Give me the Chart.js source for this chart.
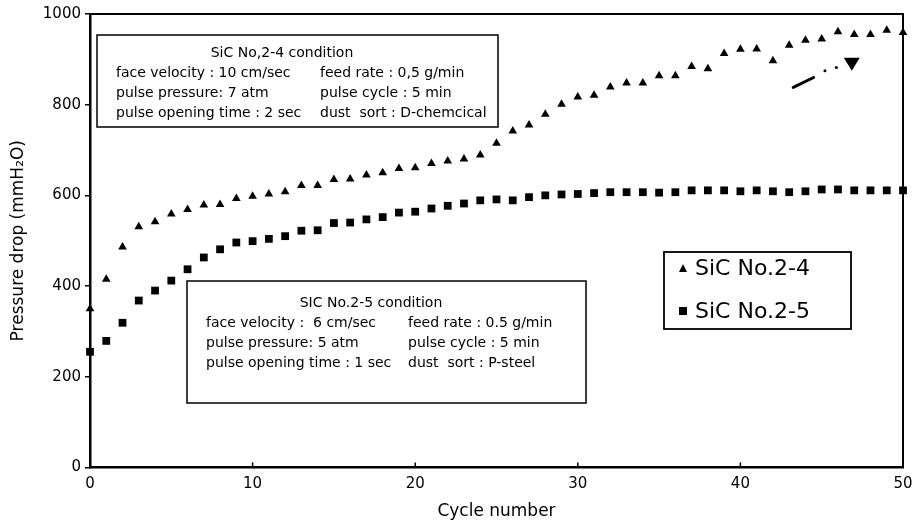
<!DOCTYPE html>
<html>
<head>
<meta charset="utf-8">
<script src="https://cdn.jsdelivr.net/npm/chart.js@4.4.1/dist/chart.umd.min.js"></script>
<style>
  html, body { margin: 0; padding: 0; background: #fff; }
  #wrap { width: 919px; height: 530px; position: relative; }
</style>
</head>
<body>
<div id="wrap"><canvas id="pdChart"></canvas></div>
<script>
// ===== DATA =====
const cycles = [0, 1, 2, 3, 4, 5, 6, 7, 8, 9, 10, 11, 12, 13, 14, 15, 16, 17, 18, 19, 20,
  21, 22, 23, 24, 25, 26, 27, 28, 29, 30, 31, 32, 33, 34, 35, 36, 37, 38, 39, 40,
  41, 42, 43, 44, 45, 46, 47, 48, 49, 50];

// SiC No.2-4 (triangles)
const sic24 = [350, 415, 486, 531, 542, 559, 569, 579, 580, 593, 598, 603, 608, 622, 622,
  635, 636, 645, 650, 659, 661, 670, 676, 680, 689, 715, 742, 755, 779, 801, 817,
  821, 839, 848, 848, 864, 864, 884, 879, 913, 922, 923, 897, 931, 942, 945, 961,
  955, 955, 964, 959];

// SiC No.2-5 (squares)
const sic25 = [255, 279, 319, 368, 390, 412, 437, 463, 481, 496, 499, 504, 510, 522, 523,
  539, 540, 547, 552, 562, 564, 571, 577, 582, 589, 591, 589, 596, 600, 602, 603,
  605, 607, 607, 607, 606, 607, 611, 611, 611, 609, 611, 609, 607, 609, 613, 613,
  611, 611, 611, 611];

const seriesLabels = ['SiC No.2-4', 'SiC No.2-5'];
const xTicks = [0, 10, 20, 30, 40, 50];
const yTicks = [0, 200, 400, 600, 800, 1000];

// condition boxes
const box24Title = 'SiC No,2-4 condition';
const box24Left = ['face velocity : 10 cm/sec', 'pulse pressure: 7 atm', 'pulse opening time : 2 sec'];
const box24Right = ['feed rate : 0,5 g/min', 'pulse cycle : 5 min', 'dust  sort : D-chemcical'];
const box25Title = 'SIC No.2-5 condition';
const box25Left = ['face velocity :  6 cm/sec', 'pulse pressure: 5 atm', 'pulse opening time : 1 sec'];
const box25Right = ['feed rate : 0.5 g/min', 'pulse cycle : 5 min', 'dust  sort : P-steel'];

const FONT = "'DejaVu Sans', 'Liberation Sans', Arial, sans-serif";

// ===== ANNOTATIONS (boxes, legend, arrow, frame) =====
function drawBox(ctx, x0, y0, x1, y1, textTop, title, titleX, leftX, rightX, left, right) {
  ctx.save();
  ctx.fillStyle = '#fff';
  ctx.fillRect(x0, y0, x1 - x0, y1 - y0);
  ctx.strokeStyle = '#000';
  ctx.lineWidth = 1.5;
  ctx.strokeRect(x0, y0, x1 - x0, y1 - y0);
  ctx.fillStyle = '#000';
  ctx.textBaseline = 'middle';
  ctx.font = '14px ' + FONT;
  ctx.textAlign = 'center';
  ctx.fillText(title, titleX, y0 + textTop);
  ctx.textAlign = 'left';
  left.forEach((t, i) => ctx.fillText(t, leftX, y0 + textTop + 20 + i * 20));
  right.forEach((t, i) => ctx.fillText(t, rightX, y0 + textTop + 20 + i * 20));
  ctx.restore();
}

const overlayPlugin = {
  id: 'overlay',
  afterDraw(chart) {
    const ctx = chart.ctx;
    const a = chart.chartArea;
    const xs = chart.scales.x, ys = chart.scales.y;

    // frame top / right
    ctx.save();
    ctx.strokeStyle = '#000';
    ctx.lineWidth = 2;
    ctx.beginPath();
    ctx.moveTo(a.left, a.top);
    ctx.lineTo(a.right, a.top);
    ctx.lineTo(a.right, a.bottom);
    ctx.stroke();
    // inward x ticks
    ctx.lineWidth = 1.5;
    xTicks.forEach(v => {
      const px = xs.getPixelForValue(v);
      ctx.beginPath();
      ctx.moveTo(px, a.bottom);
      ctx.lineTo(px, a.bottom - 5);
      ctx.stroke();
    });
    ctx.restore();

    drawBox(ctx, 97, 35, 498, 127, 18, box24Title, 282, 116, 320, box24Left, box24Right);
    drawBox(ctx, 187, 281, 586, 403, 22, box25Title, 371, 206, 408, box25Left, box25Right);

    // legend box
    ctx.save();
    ctx.fillStyle = '#fff';
    ctx.fillRect(664, 252, 187, 77);
    ctx.strokeStyle = '#000';
    ctx.lineWidth = 1.8;
    ctx.strokeRect(664, 252, 187, 77);
    ctx.fillStyle = '#000';
    ctx.font = '22px ' + FONT;
    ctx.textBaseline = 'middle';
    ctx.textAlign = 'left';
    // triangle marker
    ctx.beginPath();
    ctx.moveTo(683, 264);
    ctx.lineTo(687, 272);
    ctx.lineTo(679, 272);
    ctx.closePath();
    ctx.fill();
    ctx.fillText(chart.data.datasets[0].label, 695, 269);
    // square marker
    ctx.fillRect(679, 307, 8, 8);
    ctx.fillText(chart.data.datasets[1].label, 695, 312);
    ctx.restore();

    // arrow (dash-dot with filled head)
    const P = (x, y) => [xs.getPixelForValue(x), ys.getPixelForValue(y)];
    const s = P(43.25, 838), e = P(44.5, 860), d1 = P(45.2, 875), d2 = P(45.9, 882), h = P(46.85, 890);
    ctx.save();
    ctx.strokeStyle = '#000';
    ctx.fillStyle = '#000';
    ctx.lineWidth = 3;
    ctx.lineCap = 'round';
    ctx.beginPath();
    ctx.moveTo(s[0], s[1]);
    ctx.lineTo(e[0], e[1]);
    ctx.stroke();
    [d1, d2].forEach(p => {
      ctx.beginPath();
      ctx.arc(p[0], p[1], 1.5, 0, Math.PI * 2);
      ctx.fill();
    });
    ctx.beginPath();
    ctx.moveTo(h[0] - 8, h[1] - 6);
    ctx.lineTo(h[0] + 8, h[1] - 6);
    ctx.lineTo(h[0], h[1] + 7);
    ctx.closePath();
    ctx.fill();
    ctx.restore();
  }
};

// ===== CHART =====
const canvas = document.getElementById('pdChart');
new Chart(canvas, {
  type: 'scatter',
  data: {
    datasets: [
      {
        label: seriesLabels[0],
        data: cycles.map((c, i) => ({ x: c, y: sic24[i] })),
        pointStyle: 'triangle',
        pointRadius: 5,
        backgroundColor: '#000',
        borderColor: '#000',
        borderWidth: 0,
        clip: false
      },
      {
        label: seriesLabels[1],
        data: cycles.map((c, i) => ({ x: c, y: sic25[i] })),
        pointStyle: 'rect',
        pointRadius: 5.5,
        backgroundColor: '#000',
        borderColor: '#000',
        borderWidth: 0,
        clip: false
      }
    ]
  },
  options: {
    responsive: true,
    maintainAspectRatio: false,
    animation: false,
    layout: { padding: { top: 14, right: 16, left: 0, bottom: 0 } },
    plugins: {
      legend: { display: false },
      tooltip: { enabled: false }
    },
    scales: {
      x: {
        type: 'linear',
        min: 0,
        max: 50,
        afterFit(scale) { scale.height = 62.6; },
        afterBuildTicks(scale) { scale.ticks = xTicks.map(v => ({ value: v })); },
        ticks: {
          color: '#000',
          padding: 4,
          maxRotation: 0,
          font: { family: FONT, size: 15 },
          callback: v => String(v)
        },
        grid: { drawOnChartArea: false, drawTicks: true, tickLength: 4, color: 'rgba(0,0,0,0)' },
        border: { display: true, color: '#000', width: 2.5 },
        title: {
          display: true,
          text: 'Cycle number',
          color: '#000',
          font: { family: FONT, size: 17 },
          padding: { top: 0, bottom: 8 }
        }
      },
      y: {
        type: 'linear',
        min: 0,
        max: 1000,
        afterFit(scale) { scale.width = 90; },
        afterBuildTicks(scale) { scale.ticks = yTicks.map(v => ({ value: v })); },
        ticks: {
          color: '#000',
          padding: 4,
          font: { family: FONT, size: 15 },
          callback: v => String(v)
        },
        grid: { drawOnChartArea: false, drawTicks: true, tickLength: 5, color: '#000', lineWidth: 1.5 },
        border: { display: true, color: '#000', width: 2.5 },
        title: {
          display: true,
          text: 'Pressure drop (mmH₂O)',
          color: '#000',
          font: { family: FONT, size: 17 },
          padding: { top: 8, bottom: 0 }
        }
      }
    }
  },
  plugins: [overlayPlugin]
});
</script>
</body>
</html>
